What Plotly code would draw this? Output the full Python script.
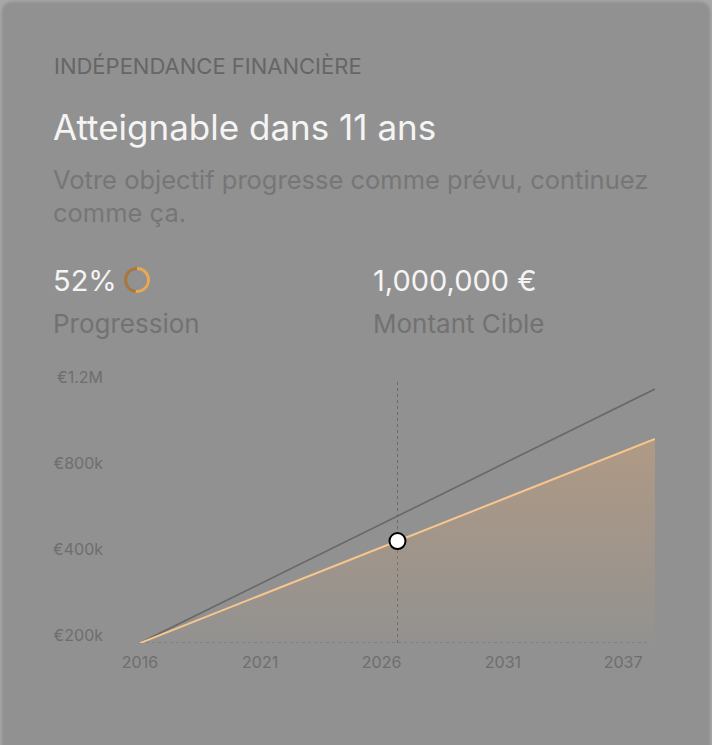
import plotly.graph_objects as go

W, H = 712, 745

# ---------------- data ----------------
years = [2016, 2017, 2018, 2019, 2020, 2021, 2022, 2023, 2024, 2025, 2026,
         2027, 2028, 2029, 2030, 2031, 2032, 2033, 2034, 2035, 2036, 2037]
projected = [0, 45000, 90000, 136000, 181000, 226000, 271000, 316000, 362000,
             407000, 452000, 497000, 542000, 588000, 633000, 678000, 723000,
             768000, 814000, 859000, 904000, 949000]
target_path = [0, 56000, 112000, 169000, 225000, 281000, 337000, 394000, 450000,
               506000, 562000, 619000, 675000, 731000, 787000, 844000, 900000,
               956000, 1012000, 1069000, 1125000, 1181000]
current_year = 2026.5
current_value = 474000

x_tick_positions = [2016, 2020.9, 2025.85, 2030.8, 2035.7]
x_tick_labels = ["2016", "2021", "2026", "2031", "2037"]
y_tick_values = [0, 400000, 800000, 1200000]
y_tick_labels = ["€200k", "€400k", "€800k", "€1.2M"]

progress_pct = 52
kicker = "INDÉPENDANCE FINANCIÈRE"
headline = "Atteignable dans 11 ans"
subtitle_lines = ["Votre objectif progresse comme prévu, continuez", "comme ça."]
progress_label = "Progression"
target_amount = "1,000,000 €"
target_label = "Montant Cible"

# ---------------- helpers ----------------
def px(x):
    return x / W


def py(y):
    return 1 - y / H


FONT = "Inter, 'Noto Sans', sans-serif"
CARD = "#919191"

fig = go.Figure()

fig.add_trace(go.Scatter(
    x=years, y=target_path, mode="lines",
    line=dict(color="#686868", width=1.6),
    hoverinfo="skip", showlegend=False,
))
fig.add_trace(go.Scatter(
    x=years, y=projected, mode="lines",
    line=dict(color="#f8c68c", width=2),
    fill="tozeroy",
    fillgradient=dict(
        type="vertical",
        colorscale=[[0, "rgba(240,172,105,0.02)"], [1, "rgba(240,172,105,0.32)"]],
    ),
    hoverinfo="skip", showlegend=False,
))
fig.add_trace(go.Scatter(
    x=[current_year], y=[current_value], mode="markers",
    marker=dict(size=16, color="white", line=dict(color="black", width=2)),
    hoverinfo="skip", showlegend=False,
))

fig.add_trace(go.Pie(
    values=[progress_pct, 100 - progress_pct],
    marker=dict(colors=["#eaa853", "#a9773c"], line=dict(width=0)),
    hole=0.77, sort=False, direction="counterclockwise",
    textinfo="none", hoverinfo="skip", showlegend=False,
    domain=dict(x=[px(124), px(150)], y=[py(293), py(267)]),
))

# card background
r = 12
x0, x1 = 1.5, W - 1.5
y0, y1 = 1.5, H + 20
path = (
    f"M {px(x0)},{py(y1)} L {px(x0)},{py(y0 + r)} "
    f"Q {px(x0)},{py(y0)} {px(x0 + r)},{py(y0)} "
    f"L {px(x1 - r)},{py(y0)} Q {px(x1)},{py(y0)} {px(x1)},{py(y0 + r)} "
    f"L {px(x1)},{py(y1)} Z"
)
shapes = [
    dict(type="path", path=path, xref="paper", yref="paper",
         fillcolor=CARD, line=dict(color="#9e9e9e", width=2), layer="below"),
    dict(type="line", xref="x", yref="y", x0=years[0], x1=years[-1] - 0.3,
         y0=0, y1=0, line=dict(color="#6c6c6c", width=1, dash="3px,3px"),
         layer="below"),
    dict(type="line", xref="x", yref="y domain", x0=current_year, x1=current_year,
         y0=0, y1=1, line=dict(color="#6c6c6c", width=1, dash="3px,3px"),
         layer="below"),
]

annotations = [
    dict(text=kicker, x=px(52), y=py(66), font=dict(size=22, color="#666666")),
    dict(text=headline, x=px(51), y=py(127), font=dict(size=35, color="#f4f4f4")),
    dict(text=subtitle_lines[0], x=px(51), y=py(179), font=dict(size=25.5, color="#767676")),
    dict(text=subtitle_lines[1], x=px(51), y=py(213), font=dict(size=25.5, color="#767676")),
    dict(text=f"{progress_pct}%", x=px(51), y=py(280), font=dict(size=29, color="#f4f4f4")),
    dict(text=progress_label, x=px(51), y=py(323), font=dict(size=26, color="#727272")),
    dict(text=target_amount, x=px(371), y=py(280), font=dict(size=29, color="#f4f4f4")),
    dict(text=target_label, x=px(371), y=py(323), font=dict(size=26, color="#727272")),
]
for a in annotations:
    a.update(xref="paper", yref="paper", xanchor="left", yanchor="middle",
             showarrow=False)
    a["font"]["family"] = FONT

fig.update_layout(
    width=W, height=H, autosize=False,
    margin=dict(l=0, r=0, t=0, b=0, pad=0),
    paper_bgcolor="#a7a7a7", plot_bgcolor="rgba(0,0,0,0)",
    font=dict(family=FONT),
    shapes=shapes, annotations=annotations,
    xaxis=dict(
        domain=[px(140), px(655)], range=[years[0], years[-1]],
        showgrid=False, zeroline=False, showline=False, automargin=False,
        tickvals=x_tick_positions, ticktext=x_tick_labels,
        tickfont=dict(size=16, color="#6e6e6e"), ticks="",
        ticklabelstandoff=8, fixedrange=True,
    ),
    yaxis=dict(
        domain=[py(643), py(380)], range=[0, 1223000],
        showgrid=False, zeroline=False, showline=False, automargin=False,
        tickvals=y_tick_values, ticktext=y_tick_labels,
        tickfont=dict(size=16, color="#6e6e6e"), ticks="",
        ticklabelshift=-8, ticklabelstandoff=36, fixedrange=True,
    ),
)

fig.write_html("out.html", config={"displayModeBar": False},
               post_script="document.body.style.margin='0';document.body.style.overflow='hidden';")
